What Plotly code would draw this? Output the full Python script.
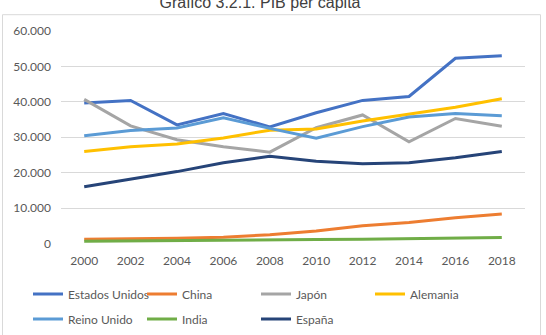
import plotly.graph_objects as go

years = [2000, 2002, 2004, 2006, 2008, 2010, 2012, 2014, 2016, 2018]

estados_unidos = [39700, 40400, 33500, 36700, 32900, 36900, 40400, 41500, 52300, 53000]
china = [1200, 1300, 1500, 1800, 2500, 3500, 5000, 5900, 7300, 8300]
japon = [40700, 33200, 29300, 27300, 25800, 32700, 36300, 28700, 35300, 33100]
alemania = [26000, 27300, 28100, 29800, 32000, 32300, 34600, 36500, 38500, 40900]
reino_unido = [30400, 31900, 32600, 35500, 32500, 29700, 33000, 35700, 36700, 36100]
india = [650, 700, 750, 850, 950, 1100, 1200, 1300, 1500, 1700]
espana = [16000, 18100, 20300, 22800, 24600, 23200, 22500, 22800, 24200, 26000]

series = [
    ("Estados Unidos", estados_unidos, "#4472C4", "legend"),
    ("China", china, "#ED7D31", "legend"),
    ("Japón", japon, "#A5A5A5", "legend"),
    ("Alemania", alemania, "#FFC000", "legend"),
    ("Reino Unido", reino_unido, "#5B9BD5", "legend2"),
    ("India", india, "#70AD47", "legend2"),
    ("España", espana, "#264478", "legend2"),
]

W, H = 546, 335
L, R, T, B = 61, 21, 31, 89

fig = go.Figure()
for name, vals, color, leg in series:
    fig.add_trace(go.Scatter(
        x=years, y=vals, name=name, mode="lines",
        line=dict(color=color, width=3), legend=leg,
    ))

pw = W - L - R
ph = H - T - B

def px_x(p):
    return (p - L) / pw

def px_y(p):
    return (H - B - p) / ph

fig.add_shape(type="rect", xref="paper", yref="paper",
              x0=px_x(2.5), x1=px_x(540.5), y0=px_y(345), y1=px_y(14.5),
              line=dict(color="#D9D9D9", width=1), fillcolor="rgba(0,0,0,0)",
              layer="above")

font_family = "Lato"
tick_color = "#595959"

legend_common = dict(
    orientation="h", xref="container", yref="container",
    xanchor="left", yanchor="middle",
    entrywidth=69, entrywidthmode="pixels",
    font=dict(family=font_family, size=12, color=tick_color),
    bgcolor="rgba(0,0,0,0)", borderwidth=0,
    itemclick=False, itemdoubleclick=False,
)

fig.update_layout(
    width=W, height=H,
    margin=dict(l=L, r=R, t=T, b=B),
    paper_bgcolor="white", plot_bgcolor="white",
    separators=",.",
    title=dict(text="Grafico 3.2.1. PIB per capita",
               font=dict(family="Liberation Sans", size=16, color="#404040"),
               x=260 / W, xanchor="center", xref="container",
               y=1 - 2.7 / H, yanchor="middle", yref="container"),
    legend=dict(**legend_common, x=28 / W, y=1 - 294 / H),
    legend2=dict(**legend_common, x=28 / W, y=1 - 319 / H),
    xaxis=dict(
        range=[1999, 2019], tickmode="array", tickvals=years,
        ticktext=[str(y) for y in years],
        showgrid=False, zeroline=False, showline=False,
        ticks="", ticklabelstandoff=8,
        tickfont=dict(family=font_family, size=12, color=tick_color),
    ),
    yaxis=dict(
        range=[0, 60000], dtick=10000, tickformat=",",
        showgrid=True, gridcolor="#D9D9D9", gridwidth=1,
        zeroline=False, showline=False, ticks="", ticklabelstandoff=9,
        tickfont=dict(family=font_family, size=12, color=tick_color),
    ),
)

fig.write_html("out.html")
